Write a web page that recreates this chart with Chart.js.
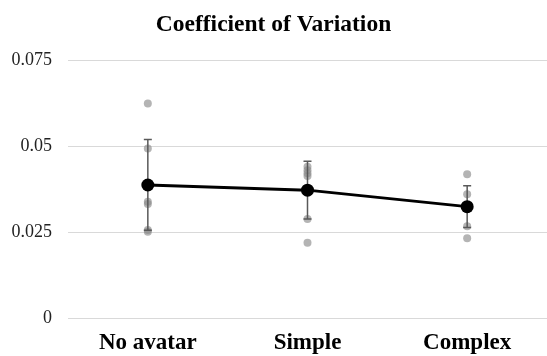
<!DOCTYPE html>
<html><head><meta charset="utf-8">
<script src="https://cdn.jsdelivr.net/npm/chart.js@4"></script>
<style>html,body{margin:0;padding:0;background:#fff}#wrap{width:547px;height:356px}</style>
</head><body><div id="wrap"><canvas id="c" width="547" height="356"></canvas></div>
<script>
const categories = ["No avatar", "Simple", "Complex"];
const meanValues = [0.0387, 0.0372, 0.0324];
const errorValues = [0.0132, 0.0084, 0.0061];
const noAvatarPoints = [0.0624, 0.0493, 0.0338, 0.0332, 0.0256, 0.0251];
const simplePoints = [0.0440, 0.0430, 0.0421, 0.0413, 0.0288, 0.0219];
const complexPoints = [0.0418, 0.0360, 0.0324, 0.0267, 0.0232];
const yTickLabels = ["0", "0.025", "0.05", "0.075"];

const individual = [];
[noAvatarPoints, simplePoints, complexPoints].forEach((arr, i) => {
  arr.forEach(v => individual.push({x: categories[i], y: v}));
});

const errorBars = {
  id: 'errorBars',
  beforeDatasetDraw(chart, args) {
    if (args.index !== 1) return;
    const ctx = chart.ctx, xs = chart.scales.x, ys = chart.scales.y;
    ctx.save();
    ctx.strokeStyle = '#595959';
    ctx.lineWidth = 1.5;
    meanValues.forEach((m, i) => {
      const x = xs.getPixelForValue(i);
      const yt = ys.getPixelForValue(m + errorValues[i]);
      const yb = ys.getPixelForValue(m - errorValues[i]);
      ctx.beginPath();
      ctx.moveTo(x, yt); ctx.lineTo(x, yb);
      ctx.moveTo(x - 4, yt); ctx.lineTo(x + 4, yt);
      ctx.moveTo(x - 4, yb); ctx.lineTo(x + 4, yb);
      ctx.stroke();
    });
    ctx.restore();
  }
};

new Chart(document.getElementById('c'), {
  type: 'line',
  data: {
    labels: categories,
    datasets: [
      {
        type: 'scatter',
        data: individual,
        order: 2,
        pointRadius: 4,
        pointBackgroundColor: 'rgba(140,140,140,0.65)',
        pointBorderWidth: 0,
        showLine: false
      },
      {
        data: meanValues,
        order: 1,
        borderColor: '#000',
        borderWidth: 3,
        pointRadius: 6.5,
        pointBackgroundColor: '#000',
        pointBorderColor: '#000',
        pointBorderWidth: 0,
        tension: 0
      }
    ]
  },
  options: {
    responsive: false,
    animation: false,
    layout: {padding: 0, autoPadding: false},
    plugins: {
      legend: {display: false},
      tooltip: {enabled: false},
      title: {
        display: true,
        text: 'Coefficient of Variation',
        color: '#000',
        font: {family: 'Liberation Serif', size: 23.5, weight: 'bold'},
        padding: {top: 11, bottom: 21}
      }
    },
    scales: {
      x: {
        type: 'category',
        offset: true,
        grid: {display: false},
        border: {display: false},
        afterFit(scale) { scale.height = 38; scale.paddingLeft = 0; scale.paddingRight = 0; },
        ticks: {color: '#000', padding: 3, font: {family: 'Liberation Serif', size: 23, weight: 'bold'}, maxRotation: 0}
      },
      y: {
        min: 0, max: 0.075,
        grid: {color: '#d9d9d9', lineWidth: 1, drawTicks: false},
        border: {display: false},
        afterFit(scale) { scale.width = 68; },
        ticks: {
          stepSize: 0.025,
          padding: 16,
          color: '#222',
          font: {family: 'Liberation Serif', size: 18},
          callback: (v, i) => yTickLabels[i]
        }
      }
    }
  },
  plugins: [errorBars]
});
</script></body></html>
